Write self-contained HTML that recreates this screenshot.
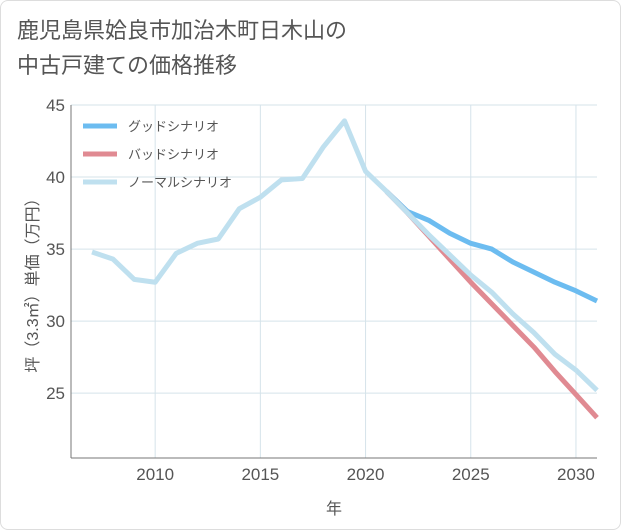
<!DOCTYPE html>
<html><head><meta charset="utf-8"><style>
body{margin:0;background:#fff;}
#wrap{position:relative;width:619px;height:528px;border:1px solid #ddd;border-radius:8px;background:#fff;overflow:hidden;}
.t{font-family:"Liberation Sans","Noto Sans CJK JP",sans-serif;}
</style></head><body>
<div id="wrap">
<div class="t" style="position:absolute;left:16px;top:12px;font-size:22px;line-height:35px;color:#555;">鹿児島県姶良市加治木町日木山の<br>中古戸建ての価格推移</div>
<svg id="chart" width="621" height="530" style="position:absolute;left:-1px;top:-1px"></svg>
</div>
<script>
const years=[2007,2008,2009,2010,2011,2012,2013,2014,2015,2016,2017,2018,2019,2020,2021,2022,2023,2024,2025,2026,2027,2028,2029,2030,2031];
const normalVals=[34.8,34.3,32.9,32.7,34.7,35.4,35.7,37.8,38.6,39.8,39.9,42.1,43.9,40.4,39.0,37.5,36.0,34.6,33.2,32.0,30.5,29.2,27.7,26.6,25.2];
const futureYears=[2021,2022,2023,2024,2025,2026,2027,2028,2029,2030,2031];
const goodVals=[39.0,37.6,37.0,36.1,35.4,35.0,34.1,33.4,32.7,32.1,31.4];
const badVals=[39.0,37.5,35.9,34.3,32.7,31.2,29.7,28.2,26.5,24.9,23.3];
const xTicks=[2010,2015,2020,2025,2030];
const yTicks=[25,30,35,40,45];
const legendLabels=["グッドシナリオ","バッドシナリオ","ノーマルシナリオ"];
const colors=["#6cbcf0","#e08a92","#bfe0ef"];

const L=71,R=597,T=105,B=458,X0=2006,X1=2031,Y0=20.5,Y1=45;
const sx=v=>L+(v-X0)/(X1-X0)*(R-L);
const sy=v=>B-(v-Y0)/(Y1-Y0)*(B-T);
const svg=document.getElementById('chart');
const NS="http://www.w3.org/2000/svg";
function mk(tag,attrs,parent){const e=document.createElementNS(NS,tag);for(const k in attrs)e.setAttribute(k,attrs[k]);(parent||svg).appendChild(e);return e;}

xTicks.forEach(v=>{
 const g=mk('line',{x1:sx(v),x2:sx(v),y1:T,y2:B,stroke:'#d5e3ea','stroke-width':1});
 
 
 const t=mk('text',{x:sx(v),y:B+22,'text-anchor':'middle','font-size':17,fill:'#555',class:'t'});
 t.textContent=v;
 
 
});
yTicks.forEach(v=>{
 const g=mk('line',{x1:L,x2:R,y1:sy(v),y2:sy(v),stroke:'#d5e3ea','stroke-width':1});
 
 
 const t=mk('text',{x:L-6,y:sy(v)+6,'text-anchor':'end','font-size':17,fill:'#555',class:'t'});
 t.textContent=v;
 
 
});
const ax=mk('line',{x1:L,x2:L,y1:T,y2:B,stroke:'#777','stroke-width':1});


const ax2=mk('line',{x1:L,x2:R,y1:B,y2:B,stroke:'#777','stroke-width':1});



function line(xs,ys,color,name){
 const p=mk('polyline',{points:xs.map((x,i)=>sx(x)+','+sy(ys[i])).join(' '),fill:'none',stroke:color,'stroke-width':5,'stroke-linejoin':'round','stroke-linecap':'butt'});
 
 
}
line(futureYears,goodVals,colors[0],'good-scenario-line');
line(futureYears,badVals,colors[1],'bad-scenario-line');
line(years,normalVals,colors[2],'normal-scenario-line');

legendLabels.forEach((s,i)=>{
 const y=126+i*28;
 const l=mk('line',{x1:83,x2:117,y1:y,y2:y,stroke:colors[i],'stroke-width':5});
 
 
 const t=mk('text',{x:128,y:y+5,'font-size':13,fill:'#555',class:'t'});
 t.textContent=s;
 
 
});
const xt=mk('text',{x:334,y:514,'text-anchor':'middle','font-size':16,fill:'#555',class:'t'});
xt.textContent='年';


const yt=mk('text',{x:0,y:0,'text-anchor':'middle','font-size':16,fill:'#555',class:'t',transform:'translate(38,'+((T+B)/2)+') rotate(-90)'});
yt.textContent='坪（3.3㎡）単価（万円）';


</script>
</body></html>
